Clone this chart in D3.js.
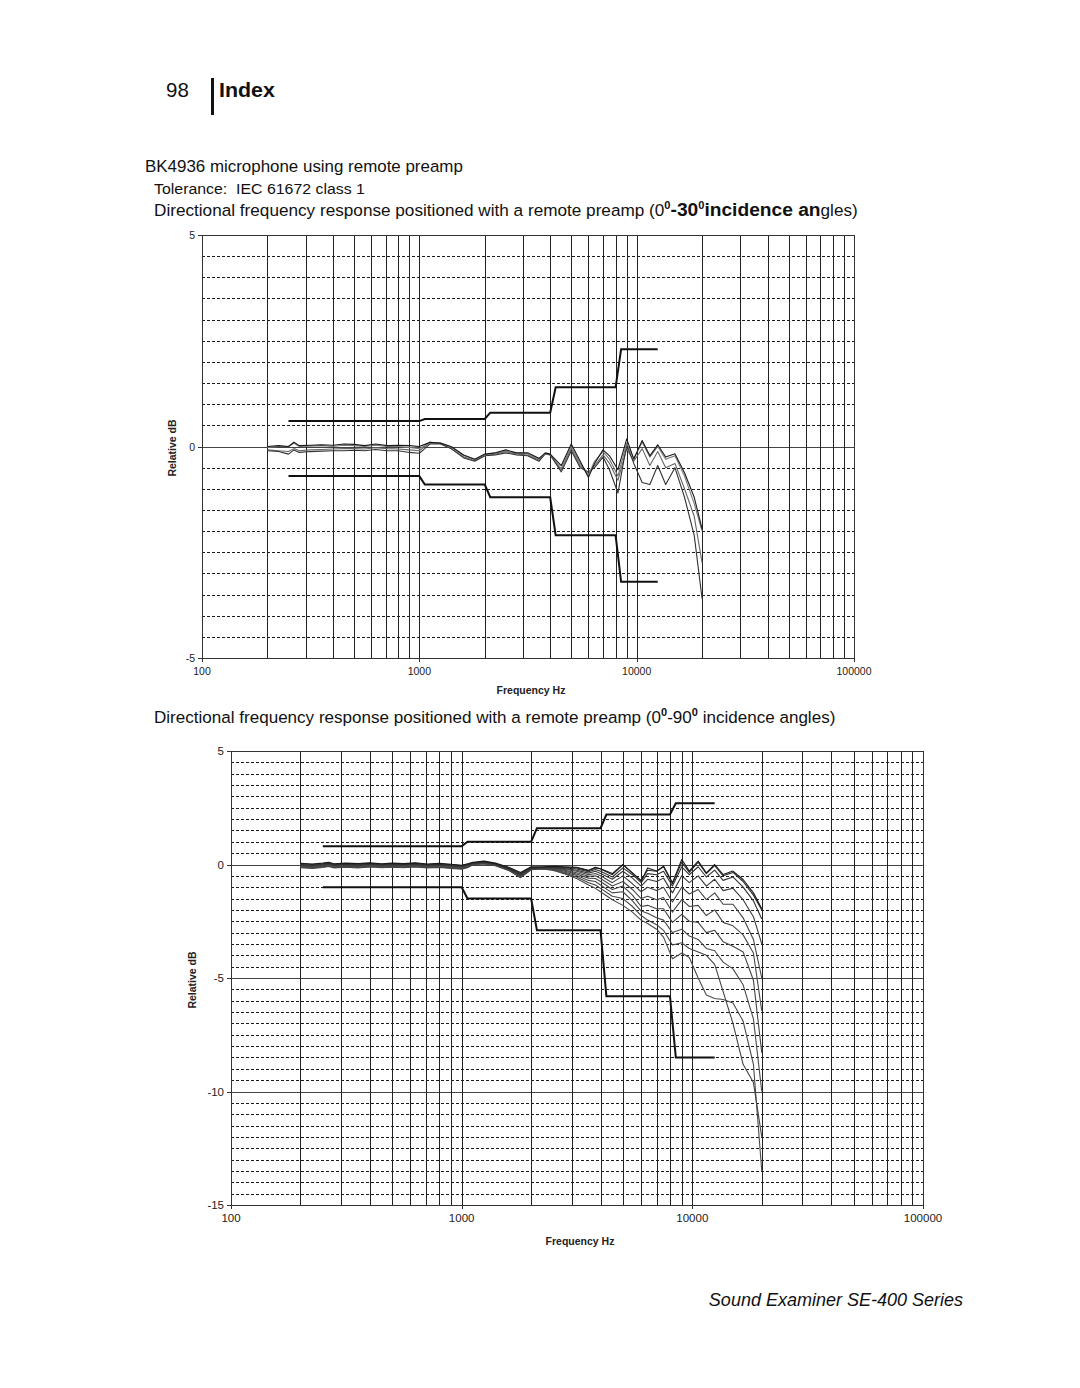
<!DOCTYPE html>
<html><head><meta charset="utf-8">
<script src="https://cdn.jsdelivr.net/npm/d3@7"></script>
<style>body{margin:0;background:#fff}svg{display:block}</style>
</head><body>
<svg id="page" width="1080" height="1388"></svg>
<script>
// ---------- DATA ----------
const freqs = [200,225,250,265,280,315,355,400,450,500,560,630,710,800,900,1000,1060,1120,1250,1400,1600,1800,2000,2240,2500,2800,3150,3550,3800,4000,4500,5000,5500,6000,6400,7000,7500,8200,9000,9700,10600,11500,12500,13600,15000,16600,18400,20000];

// chart 1: 0-30 degree incidence
const r30_a = [0.00,0.02,0.00,0.10,0.02, 0.03,0.04,0.03,0.06,0.05, 0.02,0.06,0.02,0.03,0.02, 0.00,0.05,0.10,0.08,0.00, -0.20,-0.30,-0.18, -0.15,-0.08,-0.15,-0.15,-0.28,-0.15,-0.18, -0.45,0.06,-0.35,-0.73,-0.40, -0.08,-0.22,-0.55,0.18,-0.30, 0.14,-0.22,0.04,-0.25,-0.17, -0.62,-1.20,-1.95];
const r30_b = [-0.02,0.00,0.00,0.08,0.00, 0.01,0.02,0.00,0.03,0.02, 0.00,0.03,0.00,0.00,-0.02, -0.05,0.02,0.10,0.08,-0.02, -0.22,-0.30,-0.20, -0.15,-0.12,-0.15,-0.17,-0.30,-0.17,-0.18, -0.52,0.00,-0.40,-0.68,-0.35, -0.12,-0.30,-0.70,0.08,-0.28, 0.10,-0.25,0.00,-0.30,-0.22, -0.70,-1.35,-2.00];
const r30_c = [-0.08,-0.10,-0.12,-0.05,-0.10, -0.08,-0.07,-0.06,-0.05,-0.05, -0.06,-0.03,-0.05,-0.06,-0.08, -0.10,0.00,0.08,0.07,-0.05, -0.25,-0.33,-0.22, -0.18,-0.12,-0.18,-0.20,-0.32,-0.17,-0.20, -0.55,-0.05,-0.45,-0.65,-0.45, -0.20,-0.40,-0.80,-0.05,-0.35, -0.05,-0.45,-0.12,-0.50,-0.40, -1.00,-1.65,-2.75];
const r30_d = [-0.10,-0.12,-0.18,-0.08,-0.14, -0.12,-0.11,-0.10,-0.10,-0.09, -0.10,-0.07,-0.10,-0.10,-0.14, -0.16,-0.05,0.06,0.06,-0.05, -0.27,-0.35,-0.22, -0.20,-0.15,-0.20,-0.22,-0.35,-0.17,-0.20, -0.60,-0.10,-0.50,-0.60,-0.50, -0.25,-0.55,-1.10,0.05,-0.40, -0.85,-0.90,-0.45,-0.90,-0.50, -1.20,-2.10,-3.60];

// chart 2: 0-90 degree incidence
const r90_0 = [0.05,0.02,0.06,0.10,0.03,0.06,0.04,0.07,0.03,0.06,0.04,0.07,0.02,0.05,0.01,-0.03,0.03,0.10,0.15,0.06,-0.12,-0.35,-0.10, -0.10,-0.08,-0.10,-0.12,-0.25,-0.12,-0.19, -0.40,0.00,-0.37,-0.74,-0.15,-0.29,-0.07,-0.80,0.22,-0.29,0.15,-0.37,0.00,-0.44,-0.29,-0.66,-1.25,-1.95];
const r90_1 = [0.03,0.00,0.03,0.08,0.01,0.04,0.02,0.05,0.01,0.04,0.02,0.05,0.00,0.03,-0.01,-0.05,0.01,0.08,0.13,0.04,-0.15,-0.40,-0.13, -0.12,-0.10,-0.12,-0.15,-0.28,-0.15,-0.20, -0.45,-0.02,-0.38,-0.70,-0.25,-0.30,-0.10,-0.85,0.10,-0.35,0.10,-0.40,-0.05,-0.50,-0.35,-0.75,-1.35,-2.00];
const r90_2 = [0.00,-0.03,0.01,0.05,-0.01,0.02,-0.01,0.03,-0.01,0.02,0.00,0.03,-0.02,0.01,-0.03,-0.07,-0.01,0.06,0.11,0.02,-0.18,-0.43,-0.15, -0.13,-0.12,-0.15,-0.20,-0.32,-0.22,-0.30, -0.55,-0.15,-0.45,-0.80,-0.40,-0.45,-0.30,-0.95,-0.10,-0.45,-0.10,-0.55,-0.25,-0.70,-0.55,-1.00,-1.60,-2.40];
const r90_3 = [-0.02,-0.05,-0.02,0.03,-0.03,0.00,-0.03,0.01,-0.03,0.00,-0.02,0.01,-0.04,-0.01,-0.05,-0.09,-0.03,0.05,0.10,0.01,-0.20,-0.46,-0.17, -0.14,-0.14,-0.18,-0.25,-0.38,-0.30,-0.40, -0.65,-0.30,-0.60,-0.95,-0.65,-0.75,-0.60,-1.25,-0.50,-0.80,-0.50,-0.95,-0.65,-1.15,-1.05,-1.55,-2.30,-3.50];
const r90_4 = [-0.04,-0.07,-0.04,0.01,-0.05,-0.02,-0.05,-0.01,-0.05,-0.02,-0.04,-0.01,-0.06,-0.03,-0.07,-0.11,-0.05,0.04,0.08,0.00,-0.21,-0.48,-0.18, -0.15,-0.16,-0.22,-0.30,-0.45,-0.40,-0.50, -0.80,-0.50,-0.85,-1.20,-1.00,-1.15,-1.00,-1.65,-1.00,-1.30,-1.10,-1.55,-1.25,-1.75,-1.75,-2.35,-3.30,-5.00];
const r90_5 = [-0.06,-0.09,-0.05,-0.01,-0.07,-0.04,-0.07,-0.03,-0.07,-0.04,-0.06,-0.03,-0.08,-0.05,-0.09,-0.13,-0.06,0.03,0.07,-0.01,-0.22,-0.50,-0.19, -0.16,-0.18,-0.26,-0.36,-0.52,-0.50,-0.62, -0.95,-0.75,-1.10,-1.50,-1.40,-1.55,-1.45,-2.10,-1.55,-1.85,-1.80,-2.25,-2.00,-2.55,-2.70,-3.10,-3.90,-6.45];
const r90_6 = [-0.08,-0.11,-0.07,-0.03,-0.09,-0.06,-0.09,-0.05,-0.09,-0.06,-0.08,-0.05,-0.10,-0.07,-0.11,-0.15,-0.08,0.02,0.06,-0.02,-0.23,-0.52,-0.20, -0.17,-0.20,-0.30,-0.42,-0.60,-0.62,-0.75, -1.10,-0.95,-1.35,-1.85,-1.80,-1.95,-1.95,-2.55,-2.20,-2.50,-2.55,-3.00,-2.90,-3.40,-3.60,-3.85,-5.10,-8.30];
const r90_7 = [-0.10,-0.13,-0.09,-0.05,-0.11,-0.08,-0.11,-0.07,-0.11,-0.08,-0.10,-0.07,-0.12,-0.09,-0.13,-0.17,-0.10,0.01,0.05,-0.03,-0.24,-0.54,-0.21, -0.18,-0.22,-0.34,-0.48,-0.70,-0.75,-0.90, -1.25,-1.20,-1.60,-2.05,-2.15,-2.35,-2.45,-3.00,-2.85,-3.15,-3.30,-3.70,-3.80,-4.30,-4.60,-5.30,-6.80,-10.00];
const r90_8 = [-0.12,-0.15,-0.11,-0.07,-0.13,-0.10,-0.13,-0.09,-0.12,-0.10,-0.12,-0.09,-0.13,-0.11,-0.15,-0.19,-0.12,0.00,0.04,-0.04,-0.25,-0.56,-0.22, -0.19,-0.24,-0.38,-0.55,-0.80,-0.90,-1.05, -1.40,-1.50,-1.85,-2.25,-2.45,-2.65,-2.90,-3.55,-3.45,-3.70,-3.85,-4.00,-4.40,-5.60,-7.00,-8.80,-9.60,-12.00];
const r90_9 = [-0.14,-0.17,-0.13,-0.09,-0.15,-0.12,-0.15,-0.11,-0.14,-0.12,-0.14,-0.11,-0.15,-0.13,-0.17,-0.21,-0.14,-0.01,0.03,-0.05,-0.26,-0.58,-0.23, -0.20,-0.26,-0.42,-0.62,-0.90,-1.05,-1.20, -1.55,-1.80,-2.10,-2.45,-2.60,-2.85,-3.20,-4.15,-3.90,-4.10,-5.00,-5.75,-5.90,-5.95,-6.10,-6.90,-8.80,-13.50];

// tolerance limits (IEC 61672 class 1)
const tolFreqs = [250,1000,1060,2000,2120,4000,4240,8000,8480,12500];
const tol30Upper = [0.6,0.6,0.65,0.65,0.8,0.8,1.4,1.4,2.3,2.3];
const tol30Lower = [-0.7,-0.7,-0.9,-0.9,-1.2,-1.2,-2.1,-2.1,-3.2,-3.2];
const tol90Upper = [0.8,0.8,1.0,1.0,1.6,1.6,2.2,2.2,2.7,2.7];
const tol90Lower = [-1.0,-1.0,-1.5,-1.5,-2.9,-2.9,-5.8,-5.8,-8.5,-8.5];

const xTicks = [100,1000,10000,100000];
const yTicks1 = [5,0,-5];
const yTicks2 = [5,0,-5,-10,-15];

// ---------- DRAW ----------
const svg = d3.select("#page");
const FONT = "'Liberation Sans', Arial, Helvetica, sans-serif";

function fit(sel, x, y, width) {
  const w = sel.node().getComputedTextLength();
  sel.attr("x", 0).attr("y", 0)
     .attr("transform", `translate(${x},${y}) scale(${width / w},1)`);
}

// header
svg.append("text").text("98").attr("x", 166).attr("y", 97)
  .attr("font-family", FONT).attr("font-size", 20.5).attr("fill", "#111");
svg.append("rect").attr("x", 211).attr("y", 78).attr("width", 3).attr("height", 37).attr("fill", "#111");
t0 = svg.append("text").text("Index")
  .attr("font-family", FONT).attr("font-size", 21).attr("font-weight", "bold").attr("fill", "#111");
fit(t0, 219, 97, 56);

let t = svg.append("text").text("BK4936 microphone using remote preamp")
  .attr("font-family", FONT).attr("font-size", 17).attr("fill", "#111");
fit(t, 145, 172, 318);
t = svg.append("text").text("Tolerance:  IEC 61672 class 1")
  .attr("font-family", FONT).attr("font-size", 15.5).attr("fill", "#111").attr("xml:space","preserve");
fit(t, 154, 194, 211);

// title 1 with mixed styles
t = svg.append("text").attr("font-family", FONT).attr("font-size", 17).attr("fill", "#111");
t.append("tspan").text("Directional frequency response positioned with a remote preamp (0");
t.append("tspan").text("0").attr("font-size", 11).attr("font-weight", "bold").attr("dy", -7);
t.append("tspan").text("-30").attr("font-size", 19).attr("font-weight", "bold").attr("dy", 7);
t.append("tspan").text("0").attr("font-size", 11).attr("font-weight", "bold").attr("dy", -7);
t.append("tspan").text("incidence an").attr("font-size", 19).attr("font-weight", "bold").attr("dy", 7);
t.append("tspan").text("gles)");
fit(t, 154, 216, 704);

// title 2
t = svg.append("text").attr("font-family", FONT).attr("font-size", 17).attr("fill", "#111");
t.append("tspan").text("Directional frequency response positioned with a remote preamp (0");
t.append("tspan").text("0").attr("font-size", 11).attr("font-weight", "bold").attr("dy", -7);
t.append("tspan").text("-90").attr("dy", 7);
t.append("tspan").text("0").attr("font-size", 11).attr("font-weight", "bold").attr("dy", -7);
t.append("tspan").text(" incidence angles)").attr("dy", 7);
fit(t, 154, 723, 682);

// footer
svg.append("text").text("Sound Examiner SE-400 Series")
  .attr("x", 963).attr("y", 1306).attr("text-anchor", "end")
  .attr("font-family", FONT).attr("font-size", 18).attr("font-style", "italic").attr("fill", "#111");

function drawChart(cfg) {
  const g = svg.append("g");
  const x = d3.scaleLog().domain([100, 100000]).range([cfg.left, cfg.right]);
  const y = d3.scaleLinear().domain(cfg.yDomain).range([cfg.bottom, cfg.top]);

  // horizontal grid
  const hVals = d3.range(cfg.yDomain[0], cfg.yDomain[1] + 0.001, 0.5);
  hVals.forEach(v => {
    const major = Math.abs(v % 5) < 1e-9;
    g.append("line").attr("x1", cfg.left).attr("x2", cfg.right)
      .attr("y1", Math.round(y(v)) + 0.5).attr("y2", Math.round(y(v)) + 0.5)
      .attr("stroke", major ? "#444" : "#1a1a1a").attr("stroke-width", 1)
      .attr("stroke-dasharray", major ? null : "3,2");
  });
  // vertical grid
  const vVals = [];
  [100, 1000, 10000].forEach(d => { for (let k = 1; k <= 9; k++) vVals.push(k * d); });
  vVals.push(100000);
  vVals.forEach(v => {
    g.append("line").attr("y1", cfg.top).attr("y2", cfg.bottom)
      .attr("x1", Math.round(x(v)) + 0.5).attr("x2", Math.round(x(v)) + 0.5)
      .attr("stroke", "#222").attr("stroke-width", 1);
  });
  g.append("rect").attr("x", cfg.left + 0.5).attr("y", cfg.top + 0.5)
    .attr("width", cfg.right - cfg.left).attr("height", cfg.bottom - cfg.top)
    .attr("fill", "none").attr("stroke", "#333").attr("stroke-width", 1);

  // ticks & labels
  cfg.yTicks.forEach(v => {
    g.append("line").attr("x1", cfg.left - 4).attr("x2", cfg.left)
      .attr("y1", Math.round(y(v)) + 0.5).attr("y2", Math.round(y(v)) + 0.5).attr("stroke", "#333");
    g.append("text").text(v).attr("x", cfg.left - 7).attr("y", y(v) + 4)
      .attr("text-anchor", "end").attr("font-family", FONT).attr("font-size", cfg.tickSize).attr("fill", "#222");
  });
  xTicks.forEach(v => {
    g.append("line").attr("x1", Math.round(x(v)) + 0.5).attr("x2", Math.round(x(v)) + 0.5)
      .attr("y1", cfg.bottom).attr("y2", cfg.bottom + 4).attr("stroke", "#333");
    g.append("text").text(v).attr("x", x(v)).attr("y", cfg.bottom + 17)
      .attr("text-anchor", "middle").attr("font-family", FONT).attr("font-size", cfg.tickSize).attr("fill", "#222");
  });
  g.append("text").text("Frequency Hz").attr("x", cfg.xLabel[0]).attr("y", cfg.xLabel[1])
    .attr("text-anchor", "middle").attr("font-family", FONT).attr("font-size", 10.5)
    .attr("font-weight", "bold").attr("fill", "#222");
  g.append("text").text("Relative dB")
    .attr("transform", `translate(${cfg.yLabel[0]},${cfg.yLabel[1]}) rotate(-90)`)
    .attr("text-anchor", "middle").attr("font-family", FONT).attr("font-size", 10.5)
    .attr("font-weight", "bold").attr("fill", "#222");

  // curves
  const line = d3.line().x(d => x(d[0])).y(d => y(d[1]));
  cfg.curves.forEach((vals, i) => {
    g.append("path").attr("d", line(freqs.map((f, j) => [f, vals[j]])))
      .attr("fill", "none").attr("stroke", cfg.colors[i % cfg.colors.length])
      .attr("stroke-width", cfg.curveWidth).attr("stroke-linejoin", "round");
  });
  // tolerance
  [cfg.tolU, cfg.tolL].forEach(vals => {
    g.append("path").attr("d", line(tolFreqs.map((f, j) => [f, vals[j]])))
      .attr("fill", "none").attr("stroke", "#111").attr("stroke-width", 2);
  });
}

drawChart({
  left: 202, right: 854, top: 235, bottom: 658, yDomain: [-5, 5], yTicks: yTicks1,
  tickSize: 10.5, xLabel: [531, 694], yLabel: [176, 448],
  curves: [r30_c, r30_d, r30_b, r30_a], colors: ["#666", "#333", "#777", "#1a1a1a"], curveWidth: 1.1,
  tolU: tol30Upper, tolL: tol30Lower
});
drawChart({
  left: 231, right: 923, top: 751, bottom: 1205, yDomain: [-15, 5], yTicks: yTicks2,
  tickSize: 11.5, xLabel: [580, 1245], yLabel: [196, 980],
  curves: [r90_9, r90_8, r90_7, r90_6, r90_5, r90_4, r90_3, r90_2, r90_1, r90_0],
  colors: ["#4a4a4a", "#444", "#4a4a4a", "#444", "#4a4a4a", "#444", "#3a3a3a", "#333", "#2a2a2a", "#1a1a1a"],
  curveWidth: 1.1,
  tolU: tol90Upper, tolL: tol90Lower
});
</script>
</body></html>
